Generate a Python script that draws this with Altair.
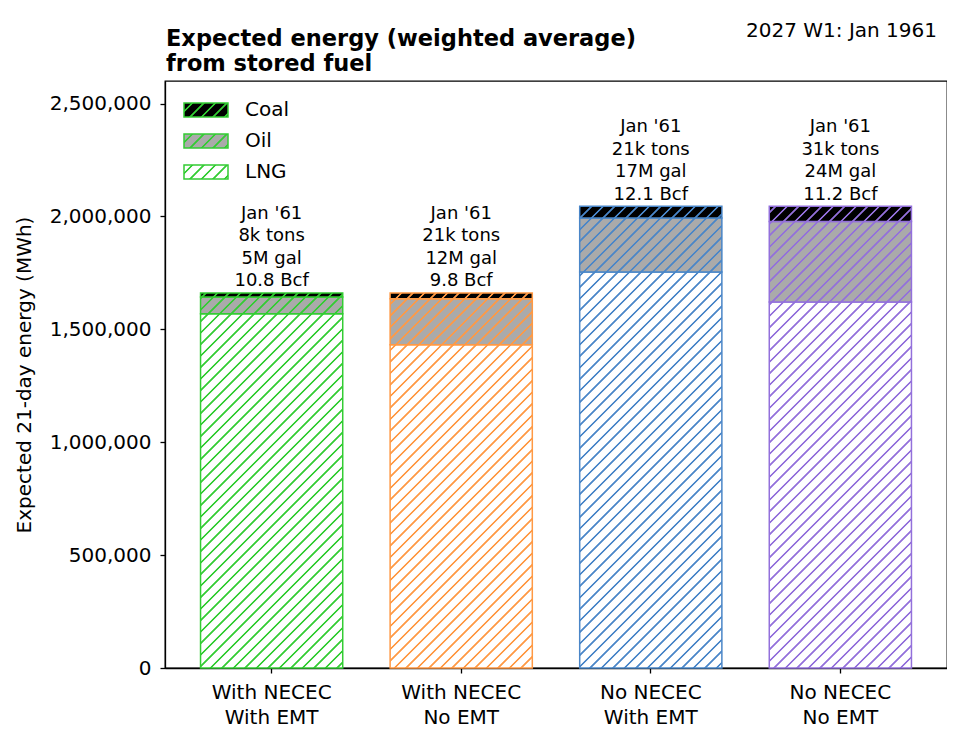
import json
import altair as alt
import pandas as pd

# ---------------- data ----------------
scenarios = ["With NECEC\nWith EMT", "With NECEC\nNo EMT", "No NECEC\nWith EMT", "No NECEC\nNo EMT"]
bar_colors = ["#33cc33", "#ff9944", "#4a86c8", "#9370db"]
fuels_bottom_up = ["LNG", "Oil", "Coal"]
legend_order = ["Coal", "Oil", "LNG"]
face_colors = {"LNG": "#ffffff", "Oil": "#aaaaaa", "Coal": "#000000"}
lng_mwh = [1569000, 1432000, 1754000, 1621000]
oil_mwh = [74000, 204000, 239000, 357000]
coal_mwh = [18000, 25000, 52000, 67000]
label_month = ["Jan '61", "Jan '61", "Jan '61", "Jan '61"]
label_coal = ["8k tons", "21k tons", "21k tons", "31k tons"]
label_oil = ["5M gal", "12M gal", "17M gal", "24M gal"]
label_lng = ["10.8 Bcf", "9.8 Bcf", "12.1 Bcf", "11.2 Bcf"]
y_ticks = [0, 500000, 1000000, 1500000, 2000000, 2500000]
title_lines = ["Expected energy (weighted average)", "from stored fuel"]
corner_note = "2027 W1: Jan 1961"
y_title = "Expected 21-day energy (MWh)"

# ---------------- layout / style ----------------
W, H = 782, 587
Y_MAX = 2600000
PAD_INNER, PAD_OUTER = 0.25, 0.1875
HATCH_P, HATCH_LW, HATCH_SOFT = 11.5, 2.4, 0.8
FONT = "DejaVu Sans"
LEGEND_W, LEGEND_H = 44, 14


def hex2rgb(c):
    c = c.lstrip("#")
    return tuple(int(c[i:i + 2], 16) for i in (0, 2, 4))


def mix(bg, fg, a):
    b, f = hex2rgb(bg), hex2rgb(fg)
    return "#%02x%02x%02x" % tuple(round(b[i] + (f[i] - b[i]) * a) for i in range(3))


def hatch_gradient(w, h, phase, bg, fg):
    """Linear gradient (bbox units) that draws '/' hatch lines on a w x h rect."""
    L = w + h
    hw, e = HATCH_LW / 2, HATCH_SOFT / 2

    def cov(s):
        k = round((s + phase) / HATCH_P)
        d = abs(s + phase - k * HATCH_P)
        if d <= hw - e:
            return 1.0
        if d >= hw + e:
            return 0.0
        return (hw + e - d) / (2 * e)

    pts = {0.0, float(L)}
    k0 = int(phase // HATCH_P) - 2
    k1 = int((L + phase) // HATCH_P) + 2
    for k in range(k0, k1 + 1):
        c = k * HATCH_P - phase
        for off in (-hw - e, -hw + e, hw - e, hw + e):
            s = c + off
            if 0 < s < L:
                pts.add(s)
    stops = [{"offset": round(s / L, 6), "color": mix(bg, fg, cov(s))} for s in sorted(pts)]
    D = w * w + h * h
    return {
        "gradient": "linear",
        "x1": 0, "y1": 0,
        "x2": round(w * L / D, 6), "y2": round(h * L / D, 6),
        "stops": stops,
    }


# stacked table
rows = []
for i, sc in enumerate(scenarios):
    vals = {"LNG": lng_mwh[i], "Oil": oil_mwh[i], "Coal": coal_mwh[i]}
    start = 0
    for f in fuels_bottom_up:
        rows.append({"scenario": sc, "fuel": f, "start": start, "end": start + vals[f], "idx": i})
        start += vals[f]
seg = pd.DataFrame(rows)

tops = pd.DataFrame({
    "scenario": scenarios,
    "total": [lng_mwh[i] + oil_mwh[i] + coal_mwh[i] for i in range(4)],
    "label": ["\n".join([label_month[i], label_coal[i], label_oil[i], label_lng[i]]) for i in range(4)],
})

x_scale = alt.Scale(domain=scenarios, paddingInner=PAD_INNER, paddingOuter=PAD_OUTER)
y_scale = alt.Scale(domain=[0, Y_MAX], nice=False)

x_axis = alt.Axis(title=None, labelExpr="split(datum.label, '\\n')", labelFontSize=20,
                  labelLineHeight=25, labelPadding=9, tickSize=5, labelAngle=0,
                  labelColor="black", tickColor="black", domainColor="black",
                  tickWidth=1.3, domainWidth=1.3, labelFont=FONT)
y_axis = alt.Axis(values=y_ticks, format=",d", title=y_title, titleFontSize=20,
                  titleFontWeight="normal", titleColor="black", labelFontSize=20,
                  tickSize=5, labelPadding=9, grid=False, titlePadding=15,
                  labelColor="black", tickColor="black", domainColor="black",
                  tickWidth=1.3, domainWidth=1.3, labelFont=FONT, titleFont=FONT)

X = alt.X("scenario:N", scale=x_scale, axis=x_axis, sort=scenarios)
Y = alt.Y("start:Q", scale=y_scale, axis=y_axis)

# legend layer (underneath; covered by hatched bars)
legend_exprs = [
    alt.ExprRef(json.dumps(hatch_gradient(LEGEND_W, LEGEND_H, 3.0, face_colors[f], bar_colors[0])))
    for f in legend_order
]
legend_layer = alt.Chart(seg).mark_bar().encode(
    x=X, y=Y, y2="end:Q",
    fill=alt.Fill("fuel:N", scale=alt.Scale(domain=legend_order, range=legend_exprs),
                  legend=alt.Legend(title=None, orient="none", legendX=29, legendY=17,
                                    padding=0, symbolType="M-2,-0.64H2V0.64H-2Z",
                                    symbolSize=(LEGEND_W / 2) ** 2,
                                    symbolStrokeColor=bar_colors[0], symbolStrokeWidth=1.5,
                                    labelFontSize=20, labelFont=FONT, labelColor="black",
                                    labelOffset=27, rowPadding=8, symbolOpacity=1)),
)

# hatched bar segments
step = W / (len(scenarios) - PAD_INNER + 2 * PAD_OUTER)
bw = step * (1 - PAD_INNER)
bar_layers = []
for _, r in seg.iterrows():
    i = int(r["idx"])
    x0 = PAD_OUTER * step + i * step
    y_top = H * (1 - r["end"] / Y_MAX)
    h = (r["end"] - r["start"]) * H / Y_MAX
    grad = hatch_gradient(bw, h, x0 + y_top, face_colors[r["fuel"]], bar_colors[i])
    sub = seg[(seg["scenario"] == r["scenario"]) & (seg["fuel"] == r["fuel"])]
    bar_layers.append(
        alt.Chart(sub).mark_bar(fill=grad, stroke=bar_colors[i], strokeWidth=1.5).encode(
            x=X, y=Y, y2="end:Q"
        )
    )

text_layer = alt.Chart(tops).mark_text(
    lineBreak="\n", fontSize=18, baseline="bottom", dy=-70, lineHeight=22.5,
    font=FONT, color="black"
).encode(x=X, y=alt.Y("total:Q", scale=y_scale, axis=y_axis), text="label:N")

note_layer = alt.Chart(pd.DataFrame({"note": [corner_note]})).mark_text(
    align="right", baseline="middle", fontSize=20, font=FONT, color="black"
).encode(x=alt.value(W - 10), y=alt.value(-50), text="note:N")

title_layer = alt.Chart(pd.DataFrame({"title": ["\n".join(title_lines)]})).mark_text(
    align="left", baseline="middle", fontSize=22.5, fontWeight="bold", font=FONT,
    color="black", lineBreak="\n", lineHeight=25
).encode(x=alt.value(1), y=alt.value(-42.5), text="title:N")

chart = alt.layer(legend_layer, *bar_layers, text_layer, note_layer, title_layer).properties(
    width=W, height=H,
    padding={"left": 157, "top": 73, "right": 0, "bottom": 65},
    autosize=alt.AutoSizeParams(type="none"),
).configure(font=FONT).configure_view(stroke="black", strokeWidth=1.3)

chart.save("out.html", embed_options={"renderer": "svg", "actions": False})
